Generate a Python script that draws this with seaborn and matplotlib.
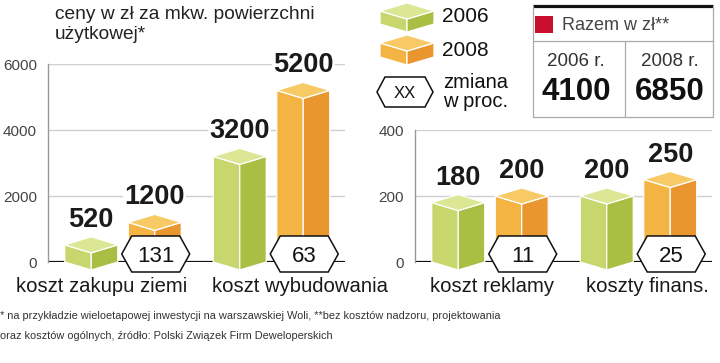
import pandas as pd
import matplotlib
matplotlib.use('Agg')
import matplotlib.pyplot as plt
from matplotlib.patches import Polygon, Rectangle
import seaborn as sns

years = ['2006', '2008']
left_categories = ['koszt zakupu ziemi', 'koszt wybudowania']
left_2006 = [520, 3200]
left_2008 = [1200, 5200]
left_change = [131, 63]
right_categories = ['koszt reklamy', 'koszty finans.']
right_2006 = [180, 200]
right_2008 = [200, 250]
right_change = [11, 25]
left_ticks = [0, 2000, 4000, 6000]
right_ticks = [0, 200, 400]
total_labels = ['2006 r.', '2008 r.']
totals = [4100, 6850]

GREEN = ('#c7d76d', '#a9bf43', '#dbe794')
ORANGE = ('#f3b444', '#e8962d', '#f8ca66')
W, H = 720, 363

sns.set_theme(style='white')
plt.rcParams['font.family'] = ['Liberation Sans', 'DejaVu Sans']

fig = plt.figure(figsize=(7.2, 3.63), dpi=100)
ax1 = fig.add_axes([48 / W, 101 / H, 297 / W, 198 / H])
ax2 = fig.add_axes([415 / W, 101 / H, 297 / W, 132 / H])
ov = fig.add_axes([0, 0, 1, 1], zorder=10)
ov.set_xlim(0, W)
ov.set_ylim(H, 0)
ov.axis('off')
ov.patch.set_alpha(0)


def to_px(ax, x, y):
    dx, dy = ax.transData.transform((x, y))
    return dx, H - dy


def box(xl, xr, yt, yb, colors, d=8):
    xm = (xl + xr) / 2
    faces = [
        ([(xl, yt), (xm, yt + d), (xm, yb + d), (xl, yb)], colors[0]),
        ([(xm, yt + d), (xr, yt), (xr, yb), (xm, yb + d)], colors[1]),
        ([(xl, yt), (xm, yt - d), (xr, yt), (xm, yt + d)], colors[2]),
    ]
    for pts, c in faces:
        ov.add_patch(Polygon(pts, closed=True, fc=c, ec='white', lw=0.9))


def hexagon(cx, cy, text, hw=34, hh=18, inset=10, fs=16):
    pts = [(cx - hw, cy), (cx - hw + inset, cy - hh), (cx + hw - inset, cy - hh),
           (cx + hw, cy), (cx + hw - inset, cy + hh), (cx - hw + inset, cy + hh)]
    ov.add_patch(Polygon(pts, closed=True, fc='white', ec='#111111', lw=1.1))
    ov.text(cx, cy, text, ha='center', va='center_baseline', fontsize=fs, color='#111111')


def panel(ax, cats, v06, v08, change, ticks, label_dx):
    df = pd.DataFrame({'kategoria': cats * 2,
                       'rok': [years[0]] * len(cats) + [years[1]] * len(cats),
                       'cena': v06 + v08})
    sns.barplot(data=df, x='kategoria', y='cena', hue='rok', ax=ax, width=0.855,
                gap=0.165, legend=False, palette=[GREEN[0], ORANGE[0]])
    ax.set_xlim(-0.505, 1.495)
    ax.set_ylim(0, ticks[-1])
    ax.set_yticks(ticks)
    ax.set_xticks([])
    ax.set_xlabel('')
    ax.set_ylabel('')
    ax.yaxis.grid(True, color='#d0d0d0', lw=1)
    ax.set_axisbelow(True)
    ax.axhline(0, color='#111111', lw=1.6, zorder=2)
    for s in ['top', 'right', 'bottom']:
        ax.spines[s].set_visible(False)
    ax.spines['left'].set_color('#999999')
    ax.spines['left'].set_linewidth(1)
    ax.tick_params(axis='y', length=0, pad=8, labelsize=11, labelcolor='#444444')

    for cont, colors in zip(ax.containers, [GREEN, ORANGE]):
        for bar in cont:
            bar.set_visible(False)
            x0 = bar.get_x()
            x1 = x0 + bar.get_width()
            v = bar.get_height()
            xl, yt = to_px(ax, x0, v)
            xr, yb = to_px(ax, x1, 0)
            box(xl, xr, yt, yb, colors)
            ax.annotate(f'{v:.0f}', xy=(x0 + bar.get_width() / 2, v), xytext=(0, 18),
                        textcoords='offset pixels', ha='center', va='baseline',
                        fontsize=19.5, fontweight='bold', color='#1a1a1a', zorder=5,
                        bbox=dict(fc='white', ec='none', pad=1))

    for bar, ch in zip(ax.containers[1], change):
        cx, yb = to_px(ax, bar.get_x() + bar.get_width() / 2, 0)
        hexagon(cx + 1, yb - 8, str(ch))

    for i, (cat, dx) in enumerate(zip(cats, label_dx)):
        ax.annotate(cat, xy=(i, 0), xytext=(dx, -25), textcoords='offset pixels',
                    ha='center', va='center', fontsize=14.6, color='#1a1a1a')


panel(ax1, left_categories, left_2006, left_2008, left_change, left_ticks, [-21, 29])
panel(ax2, right_categories, right_2006, right_2008, right_change, right_ticks, [2, 9])

# tytul
ov.text(55, 6, 'ceny w zł za mkw. powierzchni\nużytkowej*', va='top', ha='left',
        fontsize=13.8, color='#222222', linespacing=1.2)

# legenda
box(380, 434, 11, 24, GREEN)
ov.text(442, 17, years[0], va='center', fontsize=15, color='#111111')
box(380, 434, 43, 57, ORANGE)
ov.text(442, 50, years[1], va='center', fontsize=15, color='#111111')
hexagon(405, 92, 'XX', hw=28, hh=15, inset=8, fs=12)
ov.text(443, 92, 'zmiana\nw proc.', va='center', fontsize=14.5, color='#111111', linespacing=1.0)

# tabela z sumami
ov.plot([533, 713], [6, 6], color='#111111', lw=2.3, solid_capstyle='butt')
for xs, ys in [([533, 713], [41, 41]), ([533, 713], [117, 117]), ([625, 625], [41, 117]),
               ([533, 533], [6, 117]), ([713, 713], [6, 117])]:
    ov.plot(xs, ys, color='#aaaaaa', lw=0.9)
ov.add_patch(Rectangle((535, 16), 18, 17, fc='#c8102e', ec='none'))
ov.text(562, 26, 'Razem w zł**', va='center', fontsize=13, color='#444444')
for cx, lab, val in zip([576, 670], total_labels, totals):
    ov.text(cx, 61, lab, ha='center', va='center', fontsize=13.5, color='#333333')
    ov.text(cx, 92, str(val), ha='center', va='center', fontsize=22.5, fontweight='bold',
            color='#111111')

# przypisy
ov.text(0, 316, '* na przykładzie wieloetapowej inwestycji na warszawskiej Woli, '
        '**bez kosztów nadzoru, projektowania', va='center', fontsize=7.9, color='#333333')
ov.text(0, 336, 'oraz kosztów ogólnych, źródło: Polski Związek Firm Deweloperskich',
        va='center', fontsize=7.9, color='#333333')

fig.savefig('out.png', dpi=100)
